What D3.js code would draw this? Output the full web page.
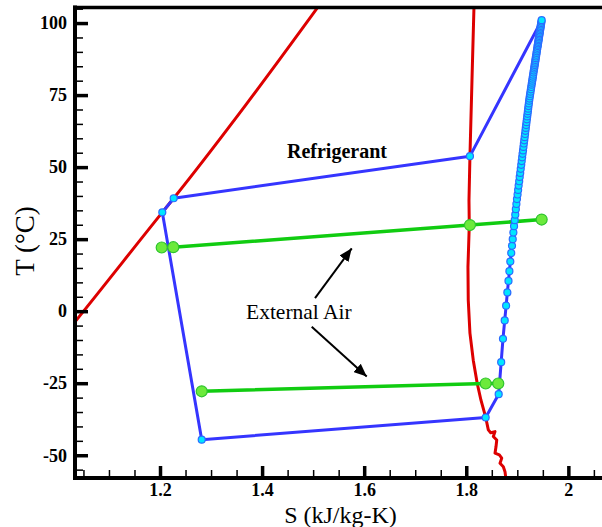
<!DOCTYPE html>
<html><head><meta charset="utf-8">
<script src="https://cdn.jsdelivr.net/npm/d3@7"></script>
<style>body{margin:0;background:#fff}svg{display:block}</style>
</head><body>
<svg id="c" width="602" height="527"></svg>
<script>
// ---------- data ----------
const xMajorTicks = [1.2, 1.4, 1.6, 1.8, 2.0];
const xTickLabels = ["1.2", "1.4", "1.6", "1.8", "2"];
const yMajorTicks = [-50, -25, 0, 25, 50, 75, 100];
const yTickLabels = ["-50", "-25", "0", "25", "50", "75", "100"];

// saturation dome (red): liquid branch and vapour branch
const liqS = [1.0237, 1.0315, 1.2045, 1.2268, 1.3685, 1.5096, 1.5174];
const liqT = [-5.8, -4.1, 34.3, 39.2, 71.7, 105.6, 107.5];
const vapS = [1.8161, 1.8151, 1.8112, 1.8072, 1.8053, 1.8059, 1.8033, 1.8039, 1.8072, 1.8137, 1.8215, 1.8288, 1.8380,
              1.8432, 1.8479, 1.8563, 1.8530, 1.8597, 1.8583, 1.8563, 1.8648, 1.8695, 1.8661, 1.8726, 1.8759, 1.8779];
const vapT = [108.7, 105.6, 80.2, 53.8, 38.5, 29.9, 15.3, 3.8, -7.6, -17.0, -25.1, -30.9, -36.8,
              -41.2, -42.2, -41.8, -43.5, -44.7, -47.0, -49.3, -49.9, -51.0, -52.8, -54.0, -55.7, -58.6];

// refrigerant cycle state points (blue): evaporator in/out, condenser in, subcooled points
const evapS = [1.2817, 1.8380];
const evapT = [-44.6, -36.9];
const condS = [1.8072, 1.2268, 1.2045];
const condT = [53.8, 39.2, 34.3];
// compressor path points
const compT = [-28.8, -17.7, -9.6, -3.2, 1.9, 6.5, 10.5, 13.9, 17.2, 20.2, 22.7, 25.0, 27.3, 29.5, 31.6, 33.5, 35.4, 37.2,
  38.9, 40.5, 42.1, 43.6, 45.1, 46.6, 48.0, 49.4, 50.8, 52.1, 53.4, 54.6, 55.8, 57.0, 58.2, 59.3, 60.4, 61.5, 62.6, 63.6,
  64.6, 65.6, 66.6, 67.6, 68.5, 69.4, 70.3, 71.2, 72.1, 73.0, 73.8, 74.6, 75.4, 76.2, 77.0, 77.8, 78.6, 79.3, 80.0, 80.7,
  81.4, 82.1, 82.8, 83.5, 84.2, 84.8, 85.4, 86.0, 86.6, 87.2, 87.8, 88.4, 89.0, 89.6, 90.2, 90.8, 91.4, 92.0, 92.5, 93.0,
  93.5, 94.0, 94.5, 95.0, 95.5, 96.0, 96.5, 97.0, 97.5, 98.0, 98.5, 99.0, 99.5, 100.0, 100.5, 101.0];
const compS = [1.8635, 1.8684, 1.8719, 1.8753, 1.8781, 1.8805, 1.8827, 1.8845, 1.8863, 1.8881, 1.8896, 1.8910, 1.8923,
  1.8936, 1.8949, 1.8960, 1.8971, 1.8982, 1.8993, 1.9005, 1.9016, 1.9026, 1.9037, 1.9047, 1.9057, 1.9067, 1.9077, 1.9086,
  1.9095, 1.9103, 1.9112, 1.9120, 1.9128, 1.9136, 1.9144, 1.9152, 1.9159, 1.9166, 1.9173, 1.9180, 1.9187, 1.9194, 1.9201,
  1.9207, 1.9213, 1.9219, 1.9226, 1.9232, 1.9238, 1.9245, 1.9252, 1.9259, 1.9266, 1.9273, 1.9280, 1.9287, 1.9293, 1.9299,
  1.9305, 1.9311, 1.9317, 1.9323, 1.9330, 1.9335, 1.9340, 1.9345, 1.9351, 1.9356, 1.9361, 1.9366, 1.9372, 1.9377, 1.9382,
  1.9387, 1.9393, 1.9398, 1.9402, 1.9407, 1.9411, 1.9416, 1.9420, 1.9424, 1.9429, 1.9433, 1.9437, 1.9442, 1.9446, 1.9451,
  1.9455, 1.9459, 1.9464, 1.9468, 1.9473, 1.9477];

// external air (green)
const airHotS = [1.2033, 1.2260, 1.8072, 1.9477];
const airHotT = [22.1, 22.2, 29.9, 31.8];
const airColdS = [1.2817, 1.8380, 1.8627];
const airColdT = [-27.8, -25.1, -25.1];

// annotations
const labelRefrig = {text: "Refrigerant", S: 1.4488, T: 53.2};
const labelAir = {text: "External Air", S: 1.3685, T: -2.8};
const arrowFromS = [1.5037, 1.4972];
const arrowFromT = [4.5, -5.4];
const arrowToS = [1.5756, 1.6050];
const arrowToT = [21.8, -22.7];

// ---------- chart ----------
const FONT = "'Liberation Serif', 'Times New Roman', Times, serif";
const svg = d3.select("#c");
const L = 75, R = 619.4, T0 = 7.5, B = 478;
const x = d3.scaleLinear().domain([1.03346, 2.1]).range([L, R]);
const y = d3.scaleLinear().domain([-57.9, 105.4]).range([B, T0]);
const zip = (a, b) => a.map((v, i) => [v, b[i]]);

const defs = svg.append("defs");
defs.append("clipPath").attr("id", "clip").append("rect")
  .attr("x", L).attr("y", T0).attr("width", R - L).attr("height", B - T0);
defs.append("marker").attr("id", "arr").attr("markerUnits", "userSpaceOnUse")
  .attr("markerWidth", 13).attr("markerHeight", 11).attr("refX", 13).attr("refY", 5.5)
  .attr("orient", "auto")
  .append("path").attr("d", "M0,0 L13,5.5 L0,11 Z").attr("fill", "#000");

const line = d3.line().x(d => x(d[0])).y(d => y(d[1]));
const plot = svg.append("g").attr("clip-path", "url(#clip)");

// red saturation dome
plot.append("path").attr("d", d3.line().curve(d3.curveMonotoneX).x(d => x(d[0])).y(d => y(d[1]))(zip(liqS, liqT)))
  .attr("fill", "none").attr("stroke", "#dd0000").attr("stroke-width", 3);
plot.append("path").attr("d", line(zip(vapS, vapT))).attr("fill", "none")
  .attr("stroke", "#dd0000").attr("stroke-width", 3).attr("stroke-linejoin", "round");

// green air lines
const hot = zip(airHotS, airHotT), cold = zip(airColdS, airColdT);
[hot, cold].forEach(p => plot.append("path").attr("d", line(p)).attr("fill", "none")
  .attr("stroke", "#11cc11").attr("stroke-width", 3.5));

// blue cycle
const cyc = [...zip(evapS, evapT), ...zip(compS, compT), ...zip(condS, condT), [evapS[0], evapT[0]]];
plot.append("path").attr("d", line(cyc)).attr("fill", "none")
  .attr("stroke", "#3535ff").attr("stroke-width", 3).attr("stroke-linejoin", "round");
plot.selectAll("circle.cy").data(cyc.slice(0, cyc.length - 1)).join("circle").attr("class", "cy")
  .attr("cx", d => x(d[0])).attr("cy", d => y(d[1])).attr("r", 3.5)
  .attr("fill", "#00e6ff").attr("stroke", "#2a6cff").attr("stroke-width", 1.2);

// green markers
plot.selectAll("circle.gr").data([...hot, ...cold]).join("circle").attr("class", "gr")
  .attr("cx", d => x(d[0])).attr("cy", d => y(d[1])).attr("r", 5.5)
  .attr("fill", "#6cea3c").attr("stroke", "#2fc42f").attr("stroke-width", 1.2);

// annotations
svg.append("text").attr("x", x(labelRefrig.S)).attr("y", y(labelRefrig.T))
  .style("font-family", FONT).attr("font-weight", "bold").attr("font-size", 20)
  .text(labelRefrig.text);
svg.append("text").attr("x", x(labelAir.S)).attr("y", y(labelAir.T))
  .style("font-family", FONT).attr("font-size", 21.5)
  .text(labelAir.text);
arrowFromS.forEach((s, i) => svg.append("line")
  .attr("x1", x(s)).attr("y1", y(arrowFromT[i])).attr("x2", x(arrowToS[i])).attr("y2", y(arrowToT[i]))
  .attr("stroke", "#000").attr("stroke-width", 2).attr("marker-end", "url(#arr)"));

// axes: major ticks with labels, minor ticks inward
const fontAx = g => g.selectAll("text").style("font-family", FONT)
  .attr("font-weight", "bold").attr("font-size", 18).attr("fill", "#000");
const xMinor = d3.range(1.05, 2.06, 0.05).filter(v => xMajorTicks.every(m => Math.abs(m - v) > 1e-6));
const yMinor = d3.range(-55, 106, 5).filter(v => v % 25 !== 0);

svg.append("g").attr("transform", `translate(0,${B})`)
  .call(d3.axisBottom(x).tickValues(xMinor).tickSize(-8).tickFormat(""))
  .call(g => { g.select(".domain").remove(); g.selectAll("line").attr("stroke-width", 1.5); });
svg.append("g").attr("transform", `translate(0,${B})`)
  .call(d3.axisBottom(x).tickValues(xMajorTicks).tickSize(-12).tickPadding(5)
    .tickFormat((d, i) => xTickLabels[i]))
  .call(g => { g.select(".domain").remove(); g.selectAll("line").attr("stroke-width", 3.5); })
  .call(fontAx);
svg.append("g").attr("transform", `translate(${L},0)`)
  .call(d3.axisLeft(y).tickValues(yMinor).tickSize(-8).tickFormat(""))
  .call(g => { g.select(".domain").remove(); g.selectAll("line").attr("stroke-width", 1.5); });
svg.append("g").attr("transform", `translate(${L},0)`)
  .call(d3.axisLeft(y).tickValues(yMajorTicks).tickSize(-13).tickPadding(8)
    .tickFormat((d, i) => yTickLabels[i]))
  .call(g => { g.select(".domain").remove(); g.selectAll("line").attr("stroke-width", 3.5); })
  .call(fontAx);

// frame lines
svg.append("line").attr("x1", L).attr("x2", L).attr("y1", T0 - 2).attr("y2", B + 2)
  .attr("stroke", "#000").attr("stroke-width", 4);
svg.append("line").attr("x1", L - 2).attr("x2", 602).attr("y1", B).attr("y2", B)
  .attr("stroke", "#000").attr("stroke-width", 4);
svg.append("line").attr("x1", L - 2).attr("x2", 602).attr("y1", T0).attr("y2", T0)
  .attr("stroke", "#000").attr("stroke-width", 3.5);

// axis titles
svg.append("text").attr("x", 340.5).attr("y", 522.5).attr("text-anchor", "middle")
  .style("font-family", FONT).attr("font-size", 24).text("S (kJ/kg-K)");
svg.append("text").attr("transform", "translate(34,241) rotate(-90)").attr("text-anchor", "middle")
  .style("font-family", FONT).attr("font-size", 27).text("T (°C)");
</script>
</body></html>
